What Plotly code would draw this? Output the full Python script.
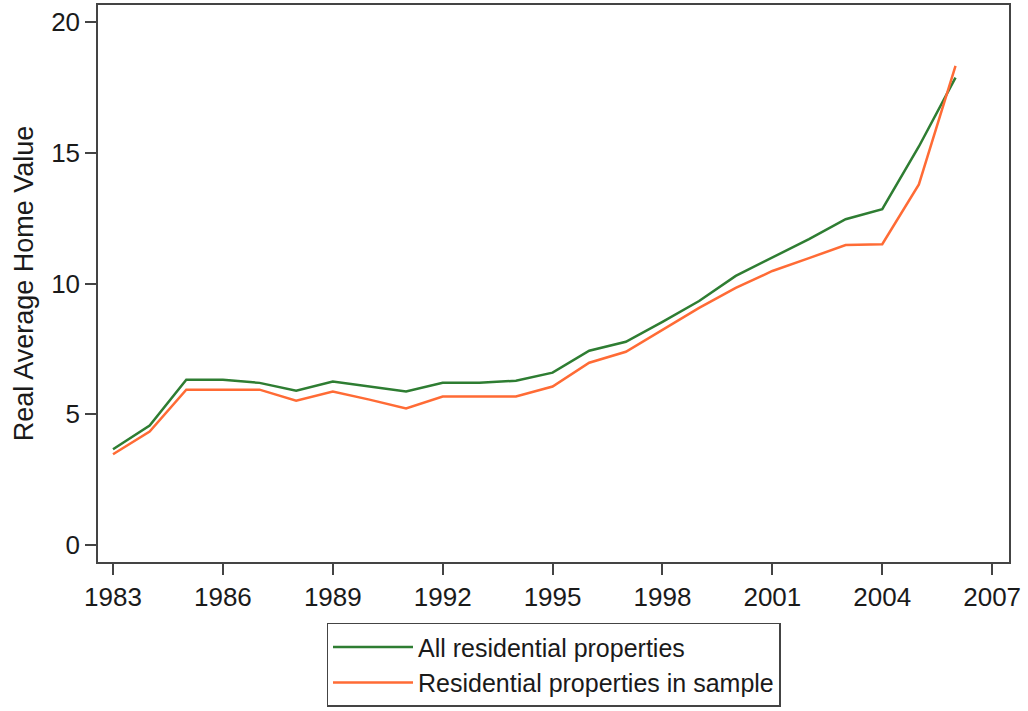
import plotly.graph_objects as go

# years and series
years = list(range(1983, 2007))
all_props = [3.66, 4.57, 6.32, 6.32, 6.20, 5.90, 6.25, 6.06, 5.87, 6.20, 6.20, 6.28,
             6.59, 7.43, 7.77, 8.53, 9.33, 10.29, 11.00, 11.70, 12.46, 12.84, 15.24, 17.87]
sample_props = [3.47, 4.34, 5.94, 5.94, 5.94, 5.52, 5.87, 5.56, 5.22, 5.68, 5.68, 5.68,
                6.06, 6.97, 7.39, 8.23, 9.07, 9.83, 10.48, 10.97, 11.47, 11.50, 13.79, 18.32]

x_ticks = [1983, 1986, 1989, 1992, 1995, 1998, 2001, 2004, 2007]
y_ticks = [0, 5, 10, 15, 20]

font_family = "Liberation Sans, Arial, sans-serif"
text_color = "#1a1a1a"

fig = go.Figure()
fig.add_trace(go.Scatter(x=years, y=all_props, mode="lines",
                         name="All residential properties", legendgroup="a",
                         line=dict(color="#2e7d32", width=2.5)))
fig.add_trace(go.Scatter(x=years, y=sample_props, mode="lines",
                         name="Residential properties in sample", legendgroup="b",
                         line=dict(color="#ff6b35", width=2.5)))

axis_style = dict(showline=True, linecolor="#444444", linewidth=1.5, mirror=True,
                  ticks="outside", ticklen=11, tickwidth=1.5, tickcolor="#444444",
                  showgrid=False, zeroline=False,
                  tickfont=dict(size=26, color=text_color, family=font_family))

fig.update_xaxes(range=[1982.59, 2007.46], tickvals=x_ticks, **axis_style)
fig.update_yaxes(range=[-0.65, 20.65], tickvals=y_ticks,
                 title=dict(text="Real Average Home Value", standoff=10,
                            font=dict(size=27, color=text_color, family=font_family)),
                 **axis_style)

fig.update_layout(
    width=1028, height=711,
    margin=dict(l=98, r=19, t=5, b=149, autoexpand=False),
    plot_bgcolor="white", paper_bgcolor="white",
    font=dict(family=font_family, color=text_color),
    legend=dict(x=0.5, xanchor="center", y=0.124, yanchor="top",
                xref="paper", yref="container",
                bordercolor="#444444", borderwidth=1.5, itemwidth=80,
                font=dict(size=25, color=text_color, family=font_family),
                traceorder="grouped", tracegroupgap=0),
)

fig.write_html("out.html", config={"displayModeBar": False},
               post_script="document.body.style.margin='0';")
